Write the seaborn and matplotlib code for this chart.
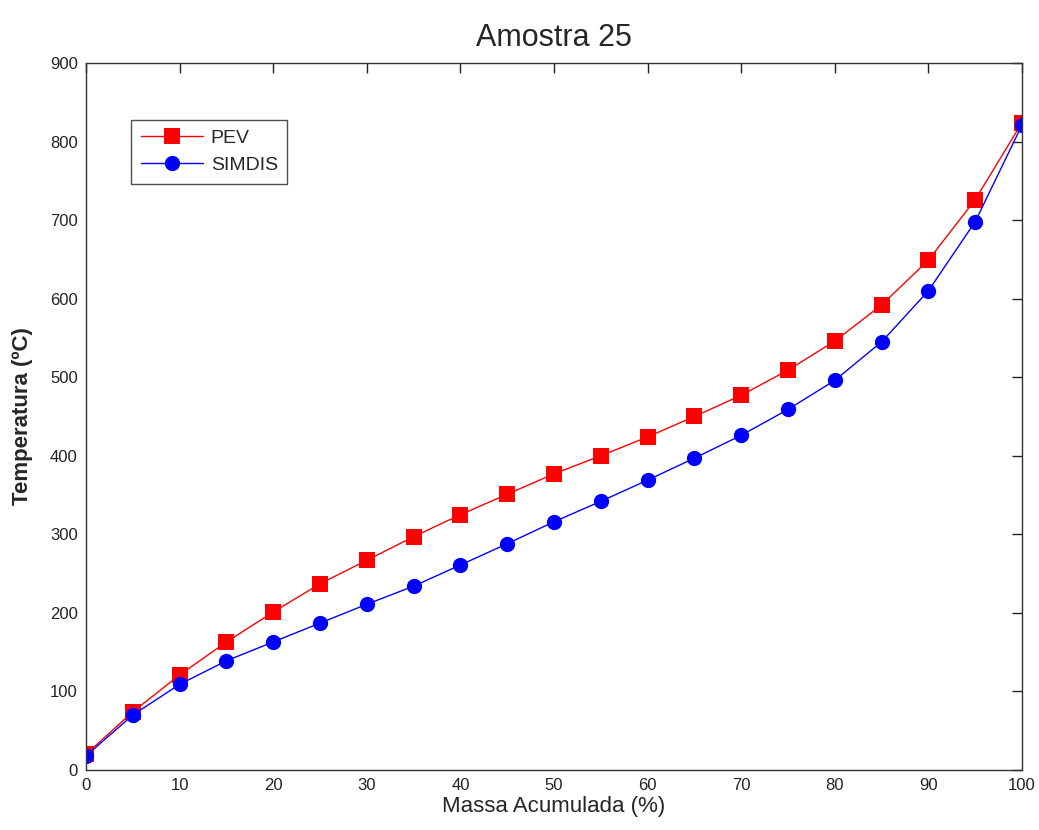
import pandas as pd
import seaborn as sns
import matplotlib.pyplot as plt

# === Daten ===
massa = [0, 5, 10, 15, 20, 25, 30, 35, 40, 45, 50, 55, 60, 65, 70, 75, 80, 85, 90, 95, 100]
pev = [20, 74, 121, 163, 201, 237, 267, 297, 325, 351, 377, 400, 424, 450, 477, 509, 546, 592, 649, 726, 824]
simdis = [18, 70, 109, 139, 163, 187, 211, 234, 261, 288, 316, 342, 369, 397, 426, 459, 496, 545, 610, 698, 821]

df = pd.concat([
    pd.DataFrame({"massa": massa, "temp": pev, "serie": "PEV"}),
    pd.DataFrame({"massa": massa, "temp": simdis, "serie": "SIMDIS"}),
], ignore_index=True)

sns.set_style("white")
plt.rcParams['font.family'] = ['Liberation Sans', 'DejaVu Sans']

fig = plt.figure(figsize=(10.39, 8.30), dpi=100)
ax = fig.add_axes([86 / 1039, 1 - 770 / 830, (1022 - 86) / 1039, (770 - 63) / 830])

sns.lineplot(
    data=df, x="massa", y="temp", hue="serie", style="serie",
    palette={"PEV": "#ff0000", "SIMDIS": "#0000ff"},
    markers={"PEV": "s", "SIMDIS": "o"}, dashes=False,
    markersize=11, markeredgewidth=0, linewidth=1, ax=ax,
)

ax.set_xlim(0, 100)
ax.set_ylim(0, 900)
ax.set_xticks(range(0, 101, 10))
ax.set_yticks(range(0, 901, 100))
ax.tick_params(direction="in", length=7, width=1, top=True, right=True,
               labelsize=12, colors="#222222", pad=6)
for s in ax.spines.values():
    s.set_color("#333333")
    s.set_linewidth(1)

ax.set_xlabel("Massa Acumulada (%)", fontsize=16, labelpad=2)
ax.set_ylabel("Temperatura (ºC)", fontsize=16, fontweight="bold", labelpad=12)
ax.set_title("Amostra 25", fontsize=22, pad=12)

leg = ax.legend(loc="upper left", bbox_to_anchor=(0.048, 0.92), borderaxespad=0,
                fontsize=14, frameon=True, fancybox=False, borderpad=0.5,
                handlelength=3.2, labelspacing=0.5, handletextpad=0.4)
leg.get_frame().set_edgecolor("#222222")
leg.get_frame().set_linewidth(1)

plt.savefig("out.png", dpi=100)
